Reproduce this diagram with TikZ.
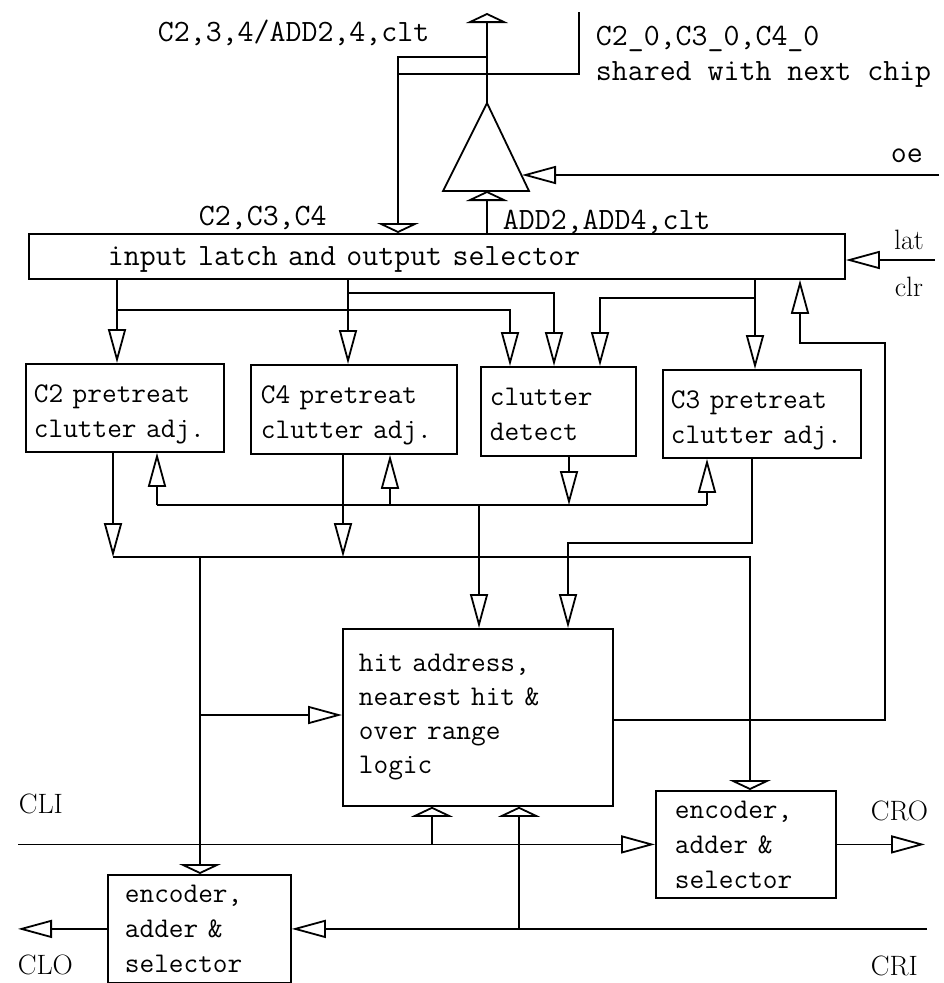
\documentclass[tikz,border=0pt]{standalone}
\usetikzlibrary{arrows.meta,calc}
\newcommand\labfont{\fontsize{31}{35}\selectfont\ttfamily}
\newcommand\boxfont{\fontsize{28.5}{35}\selectfont\ttfamily}
\newcommand\sigfont{\fontsize{28}{32}\selectfont\rmfamily}
\begin{document}
\begin{tikzpicture}[x=1pt,y=-1pt, line width=1.8pt,
  bx/.style={draw, anchor=north west, inner ysep=0pt, align=left, font=\boxfont},
  lab/.style={inner sep=0pt, font=\labfont},
  sig/.style={inner sep=0pt, font=\sigfont},
  toB/.style={-{Triangle[open,length=34pt,width=18pt]}},
  toF/.style={-{Triangle[open,length=10pt,width=42pt]}}
]
\useasboundingbox (0,0) rectangle (944,983);
\fill[white] (0,0) rectangle (944,983);

% boxes
\node[bx, font=\labfont, inner xsep=79pt, text width=658pt, minimum height=45pt, text depth=0pt] (latch) at (28,233) {input latch and output selector};
\node[bx, inner xsep=8pt, text width=182pt, minimum height=88pt, text depth=29pt] (c2) at (25,363) {C2 pretreat\\clutter adj.};
\node[bx, inner xsep=10pt, text width=186pt, minimum height=89pt, text depth=29pt] (c4) at (250,364) {C4 pretreat\\clutter adj.};
\node[bx, inner xsep=9pt, text width=137pt, minimum height=89pt, text depth=29pt] (cd) at (480,366) {clutter\\detect};
\node[bx, inner xsep=8pt, text width=182pt, minimum height=88pt, text depth=29pt] (c3) at (662,369) {C3 pretreat\\clutter adj.};
\node[bx, font=\fontsize{28.5}{34}\selectfont\ttfamily, inner xsep=16pt, text width=238pt, minimum height=177pt] (hit) at (342,628) {hit address,\\nearest hit \&\\over range\\logic};
\node[bx, inner xsep=19pt, text width=142pt, minimum height=107pt] (encr) at (655,790) {encoder,\\adder \&\\selector};
\node[bx, inner xsep=17pt, text width=149pt, minimum height=108pt] (encl) at (107,874) {encoder,\\adder \&\\selector};

% output buffer (triangle)
\draw (487,103) coordinate (bA) -- (529,191) coordinate (bR) -- (443,191) coordinate (bL) -- cycle;
\coordinate (bB) at (487,191);
\coordinate (bOE) at (522,175);

% top area
\coordinate (outT) at (487,13);
\coordinate (j57) at (487,57);
\coordinate (xC) at (398,74);
\coordinate (shT) at (579,12);
\coordinate (oeR) at (939,175);
\coordinate (latR) at (935,260);
\draw[toF] (bA) -- (outT);
\draw[toF] (j57) -| (latch.north -| xC);
\draw (shT) |- (xC);
\draw[toF] (latch.north -| bA) -- (bB);
\draw[toB] (oeR) -- (bOE);
\draw[toB] (latR) -- (latR -| latch.east);

% latch outputs
\coordinate (a1) at (117,310);
\coordinate (a2) at (348,293);
\coordinate (a3) at (755,298);
\coordinate (d1) at (510,0);
\coordinate (d2) at (554,0);
\coordinate (d3) at (600,0);
\draw[toB] (latch.south -| a1) -- (c2.north -| a1);
\draw[toB] (a1) -| (cd.north -| d1);
\draw[toB] (latch.south -| a2) -- (c4.north -| a2);
\draw[toB] (a2) -| (cd.north -| d2);
\draw[toB] (latch.south -| a3) -- (c3.north -| a3);
\draw[toB] (a3) -| (cd.north -| d3);

% feedback from hit logic to latch
\coordinate (f1) at (885,720);
\coordinate (f2) at (885,343);
\coordinate (f3) at (800,343);
\draw[toB] (hit.east |- f1) -- (f1) -- (f2) -- (f3) -- (latch.south -| f3);

% pretreat outputs bus
\coordinate (b1) at (113,557);
\coordinate (b2) at (343,557);
\coordinate (b3) at (750,557);
\coordinate (b4) at (200,557);
\coordinate (b5) at (200,715);
\draw[toB] (c2.south -| b1) -- (b1);
\draw[toB] (c4.south -| b2) -- (b2);
\draw[toF] (b1) -- (b3) -- (encr.north -| b3);
\draw[toF] (b4) -- (encl.north -| b4);
\draw[toB] (b5) -- (hit.west |- b5);

% clutter bus
\coordinate (e1) at (157,505);
\coordinate (e2) at (390,505);
\coordinate (e3) at (569,505);
\coordinate (e4) at (707,505);
\coordinate (e5) at (479,505);
\draw (e1) -- (e4);
\draw[toB] (e1) -- (c2.south -| e1);
\draw[toB] (e2) -- (c4.south -| e2);
\draw[toB] (e4) -- (c3.south -| e4);
\draw[toB] (cd.south -| e3) -- (e3);
\draw[toB] (e5) -- (hit.north -| e5);

% C3 output
\coordinate (g1) at (752,543);
\coordinate (g2) at (568,543);
\draw[toB] (c3.south -| g1) -- (g1) -- (g2) -- (hit.north -| g2);

% bottom signals
\coordinate (cliL) at (18,0);
\coordinate (h1) at (432,0);
\coordinate (h2) at (519,0);
\coordinate (croR) at (925,0);
\coordinate (criR) at (927,0);
\coordinate (cloL) at (18,0);
\draw[toB] (encr.west -| cliL) -- (encr.west);
\draw[toF] (encr.west -| h1) -- (hit.south -| h1);
\draw[toF] (encl.east -| h2) -- (hit.south -| h2);
\draw[toB] (encr.east) -- (encr.east -| croR);
\draw[toB] (encl.east -| criR) -- (encl.east);
\draw[toB] (encl.west) -- (encl.west -| cloL);

% labels
\node[lab, anchor=base west] (lout) at (157,41) {C2,3,4/ADD2,4,clt};
\node[lab, anchor=north west, align=left] (lsh) at (595,25) {C2\_0,C3\_0,C4\_0\\shared with next chip};
\node[lab, anchor=base west] (loe) at (890,162) {oe};
\node[lab, anchor=base west] (lc) at (198,225) {C2,C3,C4};
\node[lab, anchor=base west] (ladd) at (502,229) {ADD2,ADD4,clt};
\node[sig] (llat) at (909,240) {lat};
\node[sig] (lclr) at (909,287) {clr};
\node[sig, anchor=base west] (lcli) at (18,813) {CLI};
\node[sig, anchor=base west] (lclo) at (17,974) {CLO};
\node[sig, anchor=base west] (lcro) at (870,820) {CRO};
\node[sig, anchor=base west] (lcri) at (870,975) {CRI};
\end{tikzpicture}
\end{document}
